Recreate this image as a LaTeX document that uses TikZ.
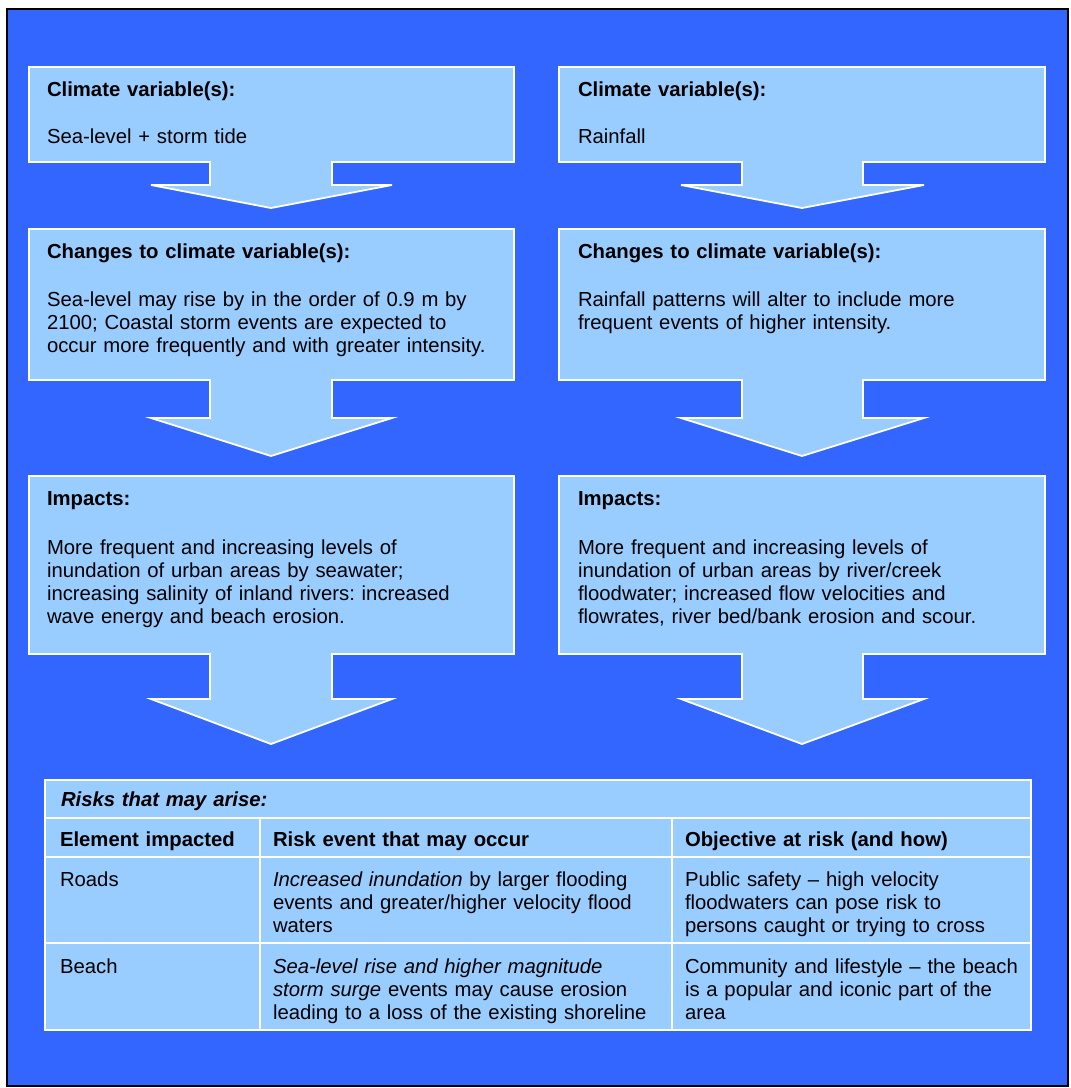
\documentclass[tikz,border=0pt]{standalone}
\usepackage{fontspec}
\setmainfont{Liberation Sans}
\frenchspacing
\definecolor{bgblue}{HTML}{3366FF}
\definecolor{lightblue}{HTML}{99CCFF}
\tikzset{
  callout/.style={fill=lightblue, draw=white, line width=1.8pt, line join=miter},
  txt/.style={anchor=base west, inner sep=0pt, outer sep=0pt, align=left, text width=520pt,
    font=\fontsize{20.3}{23.3}\selectfont, text=black},
  gridline/.style={draw=white, line width=2pt}
}
\begin{document}
\begin{tikzpicture}[x=1pt,y=-1pt]
\useasboundingbox (0,0) rectangle (1071,1088);
\fill[white] (0,0) rectangle (1071,1088);
\draw[fill=bgblue, draw=black, line width=2pt] (7,9) rectangle (1068,1086);

% ---- left column ----
\draw[callout] (29,67) -- (514,67) -- (514,162) -- (332,162) -- (332,185) -- (392,185) -- (271,208) -- (151,185) -- (210,185) -- (210,162) -- (29,162) -- cycle;
\draw[callout] (29,229) -- (514,229) -- (514,380) -- (332,380) -- (332,418) -- (392,418) -- (271,456) -- (151,418) -- (210,418) -- (210,380) -- (29,380) -- cycle;
\draw[callout] (29,476) -- (514,476) -- (514,654) -- (332,654) -- (332,699) -- (392,699) -- (271,744) -- (151,699) -- (210,699) -- (210,654) -- (29,654) -- cycle;

% ---- right column ----
\draw[callout] (559,67) -- (1045,67) -- (1045,162) -- (863,162) -- (863,185) -- (924,185) -- (802,208) -- (681,185) -- (742,185) -- (742,162) -- (559,162) -- cycle;
\draw[callout] (559,229) -- (1045,229) -- (1045,380) -- (863,380) -- (863,418) -- (924,418) -- (802,456) -- (681,418) -- (742,418) -- (742,380) -- (559,380) -- cycle;
\draw[callout] (559,476) -- (1045,476) -- (1045,654) -- (863,654) -- (863,699) -- (924,699) -- (802,744) -- (681,699) -- (742,699) -- (742,654) -- (559,654) -- cycle;

% ---- texts left ----
\node[txt] (l1h) at (47,96) {\textbf{Climate variable(s):}};
\node[txt] (l1b) at (47,143) {Sea-level + storm tide};
\node[txt] (l2h) at (47,258) {\textbf{Changes to climate variable(s):}};
\node[txt] (l2b) at (47,306) {Sea-level may rise by in the order of 0.9 m by\\2100; Coastal storm events are expected to\\occur more frequently and with greater intensity.};
\node[txt] (l3h) at (47,505) {\textbf{Impacts:}};
\node[txt] (l3b) at (47,554) {More frequent and increasing levels of\\inundation of urban areas by seawater;\\increasing salinity of inland rivers: increased\\wave energy and beach erosion.};

% ---- texts right ----
\node[txt] (r1h) at (578,96) {\textbf{Climate variable(s):}};
\node[txt] (r1b) at (578,143) {Rainfall};
\node[txt] (r2h) at (578,258) {\textbf{Changes to climate variable(s):}};
\node[txt] (r2b) at (578,306) {Rainfall patterns will alter to include more\\frequent events of higher intensity.};
\node[txt] (r3h) at (578,505) {\textbf{Impacts:}};
\node[txt] (r3b) at (578,554) {More frequent and increasing levels of\\inundation of urban areas by river/creek\\floodwater; increased flow velocities and\\flowrates, river bed/bank erosion and scour.};

% ---- table ----
\fill[lightblue] (45,780) rectangle (1031,1030);
\draw[gridline] (45,780) rectangle (1031,1030);
\draw[gridline] (45,818) -- (1031,818);
\draw[gridline] (45,857) -- (1031,857);
\draw[gridline] (45,943) -- (1031,943);
\draw[gridline] (260,818) -- (260,1030);
\draw[gridline] (672,818) -- (672,1030);

\node[txt] (t0) at (61,806) {\textbf{\textit{Risks that may arise:}}};
\node[txt] (h1) at (60,846) {\textbf{Element impacted}};
\node[txt] (h2) at (273,846) {\textbf{Risk event that may occur}};
\node[txt] (h3) at (685,846) {\textbf{Objective at risk (and how)}};
\node[txt] (a1) at (60,886) {Roads};
\node[txt] (a2) at (273,886) {\textit{Increased inundation} by larger flooding\\events and greater/higher velocity flood\\waters};
\node[txt] (a3) at (685,886) {Public safety -- high velocity\\floodwaters can pose risk to\\persons caught or trying to cross};
\node[txt] (b1) at (60,973) {Beach};
\node[txt] (b2) at (273,973) {\textit{Sea-level rise and higher magnitude}\\\textit{storm surge} events may cause erosion\\leading to a loss of the existing shoreline};
\node[txt] (b3) at (685,973) {Community and lifestyle -- the beach\\is a popular and iconic part of the\\area};
\end{tikzpicture}
\end{document}
